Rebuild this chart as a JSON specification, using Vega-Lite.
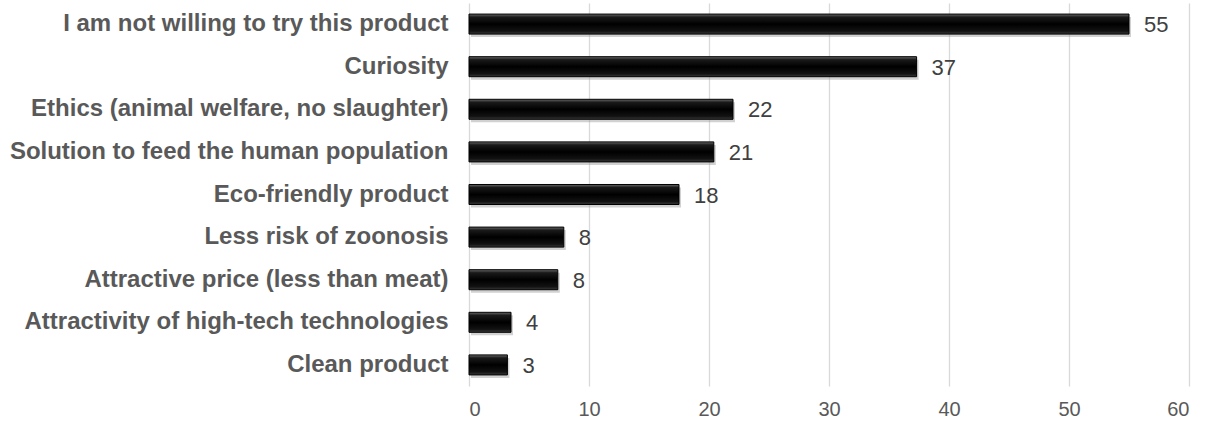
{
  "$schema": "https://vega.github.io/schema/vega-lite/v6.json",
  "autosize": {"type": "none"},
  "width": 720,
  "height": 383,
  "padding": {"left": 469, "top": 3, "right": 30, "bottom": 37},
  "background": "white",
  "config": {"view": {"stroke": null}, "font": "Liberation Sans"},
  "data": {
    "values": [
      {"reason": "I am not willing to try this product", "value": 55.0, "label": "55"},
      {"reason": "Curiosity", "value": 37.3, "label": "37"},
      {"reason": "Ethics (animal welfare, no slaughter)", "value": 22.0, "label": "22"},
      {"reason": "Solution to feed the human population", "value": 20.4, "label": "21"},
      {"reason": "Eco-friendly product", "value": 17.5, "label": "18"},
      {"reason": "Less risk of zoonosis", "value": 7.9, "label": "8"},
      {"reason": "Attractive price (less than meat)", "value": 7.4, "label": "8"},
      {"reason": "Attractivity of high-tech technologies", "value": 3.5, "label": "4"},
      {"reason": "Clean product", "value": 3.2, "label": "3"}
    ]
  },
  "encoding": {
    "y": {
      "field": "reason", "type": "nominal", "sort": null,
      "scale": {"paddingInner": 0.53, "paddingOuter": 0.26},
      "axis": {
        "title": null, "domain": false, "ticks": false, "labelPadding": 21,
        "labelLimit": 600, "labelFontSize": 24, "labelFontWeight": "bold",
        "labelColor": "#595959", "labelFont": "Liberation Sans"
      }
    },
    "x": {
      "field": "value", "type": "quantitative",
      "scale": {"domain": [0, 60], "nice": false},
      "axis": {
        "title": null, "domain": false, "ticks": false,
        "values": [0, 10, 20, 30, 40, 50, 60], "labelOverlap": false,
        "gridColor": "#d9d9d9", "gridWidth": 1.3, "labelPadding": 13,
        "labelFontSize": 20, "labelColor": "#595959", "labelFont": "Liberation Sans"
      }
    }
  },
  "layer": [
    {
      "mark": {"type": "bar", "color": "#9a9a9a", "opacity": 0.45, "xOffset": 2, "yOffset": 3}
    },
    {
      "mark": {
        "type": "bar",
        "stroke": "#000", "strokeWidth": 1,
        "color": {
          "gradient": "linear", "x1": 0, "y1": 0, "x2": 0, "y2": 1,
          "stops": [
            {"offset": 0, "color": "#6a6a6a"},
            {"offset": 0.15, "color": "#1a1a1a"},
            {"offset": 0.5, "color": "#000000"},
            {"offset": 0.85, "color": "#121212"},
            {"offset": 1, "color": "#3a3a3a"}
          ]
        }
      }
    },
    {
      "mark": {"type": "text", "align": "left", "baseline": "middle", "dx": 15, "dy": 1, "fontSize": 22, "color": "#404040", "font": "Liberation Sans"},
      "encoding": {"text": {"field": "label"}}
    }
  ]
}
